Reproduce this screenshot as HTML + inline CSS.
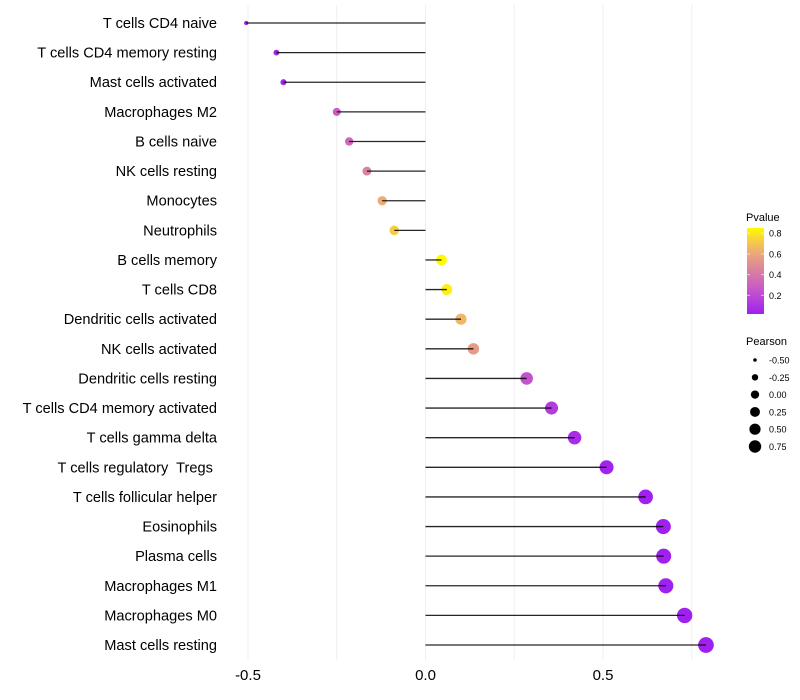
<!DOCTYPE html>
<html><head><meta charset="utf-8">
<style>
html,body{margin:0;padding:0;background:#fff;}
svg{display:block;font-family:"Liberation Sans",sans-serif;}
svg text{white-space:pre;}
</style></head>
<body>
<svg id="chart" width="800" height="700"></svg>
<script>
const categories=["T cells CD4 naive","T cells CD4 memory resting","Mast cells activated","Macrophages M2","B cells naive","NK cells resting","Monocytes","Neutrophils","B cells memory","T cells CD8","Dendritic cells activated","NK cells activated","Dendritic cells resting","T cells CD4 memory activated","T cells gamma delta","T cells regulatory  Tregs ","T cells follicular helper","Eosinophils","Plasma cells","Macrophages M1","Macrophages M0","Mast cells resting"];
const pearson=[-0.505,-0.42,-0.40,-0.25,-0.215,-0.165,-0.122,-0.088,0.045,0.06,0.10,0.135,0.285,0.355,0.42,0.51,0.62,0.67,0.671,0.677,0.73,0.79];
const pvalues=[0.02,0.03,0.04,0.28,0.33,0.45,0.62,0.72,0.86,0.82,0.66,0.55,0.24,0.14,0.07,0.03,0.01,0.003,0.003,0.002,0.001,0.0005];
const xTicks=[-0.5,0,0.5];
const xTickLabels=["-0.5","0.0","0.5"];
const gridMinor=[-0.25,0.25,0.75];
const legendP=[0.8,0.6,0.4,0.2];
const legendPearson=[-0.5,-0.25,0,0.25,0.5,0.75];

const NS="http://www.w3.org/2000/svg";
const svg=document.getElementById('chart');
const X0=425.5,XS=355,Y0=23,YS=29.62;
const xs=v=>X0+v*XS, ys=i=>Y0+i*YS;
const rOf=v=>Math.sqrt(5+(v+0.5)/1.25*55);
const stops=[[0,[160,32,240]],[0.3,[200,90,200]],[0.55,[220,138,150]],[0.75,[240,176,112]],[1,[255,250,0]]];
const pMin=0.02,pMax=0.85;
function col(p){let t=Math.max(0,Math.min(1,(p-pMin)/(pMax-pMin)));
 for(let i=1;i<stops.length;i++){if(t<=stops[i][0]){const a=stops[i-1],b=stops[i];const u=(t-a[0])/(b[0]-a[0]);
 return 'rgb('+a[1].map((c,k)=>Math.round(c+(b[1][k]-c)*u)).join(',')+')';}}return 'rgb(255,250,0)';}
function el(tag,attrs,parent){const e=document.createElementNS(NS,tag);for(const k in attrs)e.setAttribute(k,attrs[k]);(parent||svg).appendChild(e);return e;}

const grid=el('g',{});


xTicks.concat(gridMinor).forEach(v=>{const l=el('line',{x1:xs(v),x2:xs(v),y1:5,y2:660,stroke:'#efefef','stroke-width':1},grid);
 
 });

categories.forEach((c,i)=>{
 const t=el('text',{x:217,y:ys(i)+5,'text-anchor':'end','font-size':14.6,fill:'#000'});t.textContent=c;
 
 
 const p=el('circle',{cx:xs(pearson[i]),cy:ys(i),r:rOf(pearson[i]),fill:col(pvalues[i])});
 
 
 const l=el('line',{x1:xs(0),x2:xs(pearson[i]),y1:ys(i),y2:ys(i),stroke:'#000','stroke-width':1.3,'stroke-opacity':0.85});
 
 
});
xTicks.forEach((v,i)=>{const t=el('text',{x:xs(v),y:680,'text-anchor':'middle','font-size':15,fill:'#000'});t.textContent=xTickLabels[i];
 
 });

// legend Pvalue
const lg=el('g',{});


const lt=el('text',{x:746,y:221,'font-size':11,fill:'#000'},lg);lt.textContent='Pvalue';
const defs=el('defs',{});const grad=el('linearGradient',{id:'pg',x1:0,y1:1,x2:0,y2:0},defs);
for(let k=0;k<=10;k++){el('stop',{offset:k/10,'stop-color':col(pMin+(pMax-pMin)*k/10)},grad);}
el('rect',{x:747,y:228,width:17,height:86,fill:'url(#pg)'},lg);
const pyOf=p=>314-(p-pMin)/(pMax-pMin)*86;
legendP.forEach(p=>{el('line',{x1:747,x2:750,y1:pyOf(p),y2:pyOf(p),stroke:'#fff','stroke-opacity':0.6},lg);el('line',{x1:761,x2:764,y1:pyOf(p),y2:pyOf(p),stroke:'#fff','stroke-opacity':0.6},lg);
 const t=el('text',{x:769,y:pyOf(p)+3.5,'font-size':9,fill:'#000'},lg);t.textContent=p.toFixed(1);});
// legend Pearson
const sg=el('g',{});


const st=el('text',{x:746,y:345,'font-size':11,fill:'#000'},sg);st.textContent='Pearson';
legendPearson.forEach((v,i)=>{const y=360+i*17.3;el('circle',{cx:755,cy:y,r:rOf(v)*0.8,fill:'#000'},sg);
 const t=el('text',{x:769,y:y+3.5,'font-size':9,fill:'#000'},sg);t.textContent=v.toFixed(2);});
</script>
</body></html>
